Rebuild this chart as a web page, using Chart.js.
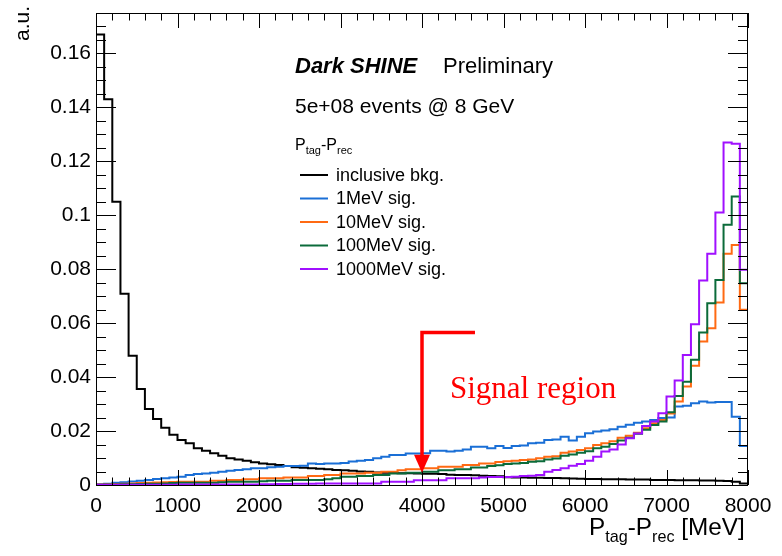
<!DOCTYPE html>
<html>
<head>
<meta charset="utf-8">
<script src="https://cdn.jsdelivr.net/npm/chart.js@4.4.0/dist/chart.umd.min.js"></script>
<style>
  html, body { margin: 0; padding: 0; background: #fff; }
  #wrap { width: 782px; height: 556px; }
</style>
</head>
<body>
<div id="wrap"><canvas id="c" width="782" height="556"></canvas></div>
<script>
// 80 bins of 100 MeV, normalised (a.u.)
var xMin = 0, xMax = 8000, nBins = 80;
var yMax = 0.175;
var xTickStep = 1000, yTickStep = 0.02;

var bkg = [
  0.1670, 0.1430, 0.1050, 0.0709, 0.0479, 0.0356, 0.0282, 0.0245, 0.0212, 0.0186,
  0.0167, 0.0155, 0.0136, 0.0127, 0.0118, 0.0108, 0.0099, 0.0095, 0.0090, 0.0084,
  0.0080, 0.0077, 0.0074, 0.0070, 0.0066, 0.0064, 0.0062, 0.0060, 0.0058, 0.0056,
  0.0055, 0.0053, 0.0050, 0.0049, 0.0046, 0.0045, 0.0045, 0.0044, 0.0044, 0.0043,
  0.0042, 0.0042, 0.0041, 0.0038, 0.0037, 0.0037, 0.0036, 0.0034, 0.0033, 0.0032,
  0.0029, 0.0028, 0.0028, 0.0027, 0.0027, 0.0026, 0.0026, 0.0025, 0.0024, 0.0023,
  0.0022, 0.0022, 0.0021, 0.0021, 0.0021, 0.0020, 0.0020, 0.0020, 0.0019, 0.0019,
  0.0019, 0.0018, 0.0018, 0.0018, 0.0017, 0.0017, 0.0016, 0.0015, 0.0012, 0.0006
];
var sig1 = [
  0.0003, 0.0005, 0.0008, 0.0010, 0.0013, 0.0016, 0.0019, 0.0022, 0.0025, 0.0028,
  0.0031, 0.0037, 0.0041, 0.0043, 0.0045, 0.0049, 0.0053, 0.0056, 0.0058, 0.0062,
  0.0062, 0.0066, 0.0068, 0.0070, 0.0070, 0.0071, 0.0080, 0.0078, 0.0080, 0.0080,
  0.0082, 0.0087, 0.0090, 0.0093, 0.0099, 0.0105, 0.0111, 0.0111, 0.0117, 0.0117,
  0.0118, 0.0127, 0.0127, 0.0124, 0.0127, 0.0132, 0.0142, 0.0142, 0.0136, 0.0145,
  0.0137, 0.0145, 0.0146, 0.0155, 0.0157, 0.0167, 0.0169, 0.0179, 0.0165, 0.0179,
  0.0192, 0.0198, 0.0202, 0.0207, 0.0216, 0.0223, 0.0231, 0.0235, 0.0241, 0.0248,
  0.0250, 0.0291, 0.0294, 0.0303, 0.0310, 0.0306, 0.0308, 0.0308, 0.0253, 0.0145
];
var sig10 = [
  0.0002, 0.0003, 0.0004, 0.0005, 0.0006, 0.0007, 0.0008, 0.0009, 0.0010, 0.0011,
  0.0012, 0.0012, 0.0012, 0.0012, 0.0016, 0.0016, 0.0019, 0.0019, 0.0021, 0.0021,
  0.0025, 0.0025, 0.0025, 0.0028, 0.0028, 0.0028, 0.0033, 0.0033, 0.0037, 0.0037,
  0.0043, 0.0043, 0.0043, 0.0045, 0.0045, 0.0049, 0.0049, 0.0055, 0.0058, 0.0058,
  0.0062, 0.0062, 0.0068, 0.0068, 0.0068, 0.0074, 0.0074, 0.0080, 0.0080, 0.0085,
  0.0088, 0.0090, 0.0093, 0.0095, 0.0099, 0.0105, 0.0107, 0.0120, 0.0124, 0.0130,
  0.0136, 0.0148, 0.0155, 0.0162, 0.0175, 0.0183, 0.0194, 0.0210, 0.0229, 0.0241,
  0.0265, 0.0310, 0.0365, 0.0442, 0.0532, 0.0581, 0.0677, 0.0857, 0.0890, 0.0650
];
var sig100 = [
  0.0001, 0.0002, 0.0002, 0.0003, 0.0003, 0.0004, 0.0005, 0.0005, 0.0006, 0.0007,
  0.0008, 0.0008, 0.0008, 0.0008, 0.0008, 0.0010, 0.0012, 0.0012, 0.0012, 0.0012,
  0.0014, 0.0016, 0.0016, 0.0016, 0.0019, 0.0019, 0.0019, 0.0019, 0.0021, 0.0025,
  0.0031, 0.0031, 0.0033, 0.0033, 0.0037, 0.0037, 0.0043, 0.0043, 0.0045, 0.0045,
  0.0049, 0.0049, 0.0055, 0.0055, 0.0058, 0.0058, 0.0065, 0.0065, 0.0070, 0.0073,
  0.0078, 0.0080, 0.0082, 0.0086, 0.0088, 0.0095, 0.0098, 0.0108, 0.0113, 0.0120,
  0.0125, 0.0136, 0.0142, 0.0152, 0.0165, 0.0175, 0.0190, 0.0205, 0.0222, 0.0235,
  0.0270, 0.0330, 0.0383, 0.0464, 0.0565, 0.0674, 0.0760, 0.0965, 0.1070, 0.0748
];
var sig1000 = [
  0.0001, 0.0001, 0.0001, 0.0001, 0.0001, 0.0001, 0.0001, 0.0001, 0.0001, 0.0001,
  0.0002, 0.0002, 0.0002, 0.0002, 0.0002, 0.0002, 0.0002, 0.0002, 0.0002, 0.0002,
  0.0003, 0.0003, 0.0004, 0.0004, 0.0005, 0.0005, 0.0005, 0.0006, 0.0006, 0.0006,
  0.0006, 0.0006, 0.0006, 0.0006, 0.0006, 0.0012, 0.0012, 0.0012, 0.0012, 0.0018,
  0.0018, 0.0018, 0.0018, 0.0025, 0.0025, 0.0025, 0.0025, 0.0028, 0.0030, 0.0030,
  0.0030, 0.0031, 0.0033, 0.0034, 0.0037, 0.0049, 0.0056, 0.0062, 0.0071, 0.0078,
  0.0090, 0.0105, 0.0124, 0.0132, 0.0150, 0.0173, 0.0191, 0.0219, 0.0235, 0.0266,
  0.0328, 0.0387, 0.0482, 0.0596, 0.0758, 0.0857, 0.1010, 0.1270, 0.1265, 0.0798
];

var seriesNames = ['inclusive bkg.', '1MeV sig.', '10MeV sig.', '100MeV sig.', '1000MeV sig.'];
var seriesColors = ['#000000', '#1a6fd6', '#ff6a13', '#0b6b3a', '#a010ff'];
var seriesData = [bkg, sig1, sig10, sig100, sig1000];

// signal region marker (data coords)
var cutX = 4000, cutTop = 0.0565, cutEnd = 4650, cutTip = 0.0045;

var sans = '"Liberation Sans", Arial, Helvetica, sans-serif';
var serif = '"Liberation Serif", "Times New Roman", serif';

function histPoints(vals) {
  var w = (xMax - xMin) / nBins;
  var pts = vals.map(function(v, i) { return { x: xMin + i * w, y: v }; });
  pts.push({ x: xMax, y: vals[vals.length - 1] });
  return pts;
}

// text with subscripts, parts = [[text, size, dy], ...]
// drawn from x; if fitWidth is given the sizes are scaled to span it
function drawParts(ctx, parts, x, y, fitWidth) {
  var k = 1;
  if (fitWidth) {
    var total = 0;
    parts.forEach(function(p) {
      ctx.font = p[1] + 'px ' + sans;
      total += ctx.measureText(p[0]).width;
    });
    k = fitWidth / total;
  }
  var cx = x;
  ctx.textAlign = 'left';
  ctx.textBaseline = 'alphabetic';
  parts.forEach(function(p) {
    ctx.font = (p[1] * k).toFixed(1) + 'px ' + sans;
    ctx.fillText(p[0], cx, y + (p[2] || 0) * k);
    cx += ctx.measureText(p[0]).width;
  });
}

var rootStyle = {
  id: 'rootStyle',
  afterDatasetsDraw: function(chart) {
    var ctx = chart.ctx;
    var a = chart.chartArea;
    var xs = chart.scales.x, ys = chart.scales.y;
    ctx.save();

    // frame
    ctx.strokeStyle = '#000';
    ctx.lineWidth = 1;
    ctx.strokeRect(a.left + 0.5, a.top + 0.5, a.right - a.left - 1, a.bottom - a.top);

    // inside ticks, all four sides
    ctx.beginPath();
    var v, px, len;
    for (v = xMin; v <= xMax + 1e-6; v += 200) {
      px = Math.round(xs.getPixelForValue(v)) + 0.5;
      len = (v % xTickStep === 0) ? 15 : 7.5;
      ctx.moveTo(px, a.bottom); ctx.lineTo(px, a.bottom - len);
      ctx.moveTo(px, a.top); ctx.lineTo(px, a.top + len);
    }
    for (v = 0; v <= yMax + 1e-9; v += 0.005) {
      px = Math.round(ys.getPixelForValue(v)) + 0.5;
      var major = Math.abs(v / yTickStep - Math.round(v / yTickStep)) < 1e-6;
      len = major ? 20 : 10;
      ctx.moveTo(a.left, px); ctx.lineTo(a.left + len, px);
      ctx.moveTo(a.right, px); ctx.lineTo(a.right - len, px);
    }
    ctx.stroke();

    // signal region arrow
    var ax = xs.getPixelForValue(cutX);
    var atop = ys.getPixelForValue(cutTop);
    var atip = ys.getPixelForValue(cutTip);
    ctx.strokeStyle = '#ff0000';
    ctx.fillStyle = '#ff0000';
    ctx.lineWidth = 3.5;
    ctx.beginPath();
    ctx.moveTo(xs.getPixelForValue(cutEnd), atop);
    ctx.lineTo(ax, atop);
    ctx.lineTo(ax, atip - 16);
    ctx.stroke();
    ctx.beginPath();
    ctx.moveTo(ax - 8, atip - 18);
    ctx.lineTo(ax + 8, atip - 18);
    ctx.lineTo(ax, atip);
    ctx.closePath();
    ctx.fill();
    ctx.font = '31px ' + serif;
    ctx.textAlign = 'left';
    ctx.textBaseline = 'alphabetic';
    ctx.fillText('Signal region', 450, 398);

    // labels
    ctx.fillStyle = '#000';
    ctx.font = 'italic bold 22px ' + sans;
    ctx.fillText('Dark SHINE', 295, 73);
    ctx.font = '22px ' + sans;
    ctx.fillText('Preliminary', 443, 73);
    ctx.font = '21px ' + sans;
    ctx.fillText('5e+08 events @ 8 GeV', 295, 113);

    drawParts(ctx, [['P', 16], ['tag', 11, 4], ['-P', 16], ['rec', 11, 4]], 295, 150);

    ctx.font = '18px ' + sans;
    ctx.textBaseline = 'middle';
    seriesNames.forEach(function(name, i) {
      var yy = 175 + i * 23.5;
      ctx.strokeStyle = seriesColors[i];
      ctx.lineWidth = 2;
      ctx.beginPath();
      ctx.moveTo(300, yy); ctx.lineTo(328, yy);
      ctx.stroke();
      ctx.fillStyle = '#000';
      ctx.fillText(name, 336, yy + 1);
    });

    // axis titles
    drawParts(ctx, [['P', 21], ['tag', 14, 6], ['-P', 21], ['rec', 14, 6], [' [MeV]', 21]], 589, 535, 156);
    ctx.save();
    ctx.translate(29, 6);
    ctx.rotate(-Math.PI / 2);
    ctx.font = '21px ' + sans;
    ctx.textAlign = 'right';
    ctx.textBaseline = 'alphabetic';
    ctx.fillText('a.u.', 0, 0);
    ctx.restore();

    ctx.restore();
  }
};

var datasets = seriesData.map(function(vals, i) {
  return {
    label: seriesNames[i],
    data: histPoints(vals),
    borderColor: seriesColors[i],
    borderWidth: 2,
    pointRadius: 0,
    stepped: true,
    fill: false,
    order: seriesData.length - 1 - i
  };
});

new Chart(document.getElementById('c'), {
  type: 'line',
  data: { datasets: datasets },
  options: {
    responsive: false,
    animation: false,
    devicePixelRatio: 1,
    layout: { padding: { top: 13, right: 34, left: 0, bottom: 0 } },
    plugins: { legend: { display: false }, tooltip: { enabled: false } },
    scales: {
      x: {
        type: 'linear',
        min: xMin,
        max: xMax,
        grid: { display: false, drawTicks: false },
        border: { display: false },
        ticks: {
          stepSize: xTickStep,
          maxRotation: 0,
          autoSkip: false,
          padding: 9,
          color: '#000',
          font: { family: sans, size: 21 },
          callback: function(v) { return String(v); }
        },
        afterFit: function(s) { s.height = 71; s.paddingLeft = 0; s.paddingRight = 0; }
      },
      y: {
        min: 0,
        max: yMax,
        grid: { display: false, drawTicks: false },
        border: { display: false },
        ticks: {
          stepSize: yTickStep,
          includeBounds: false,
          padding: 5,
          color: '#000',
          font: { family: sans, size: 21 },
          callback: function(v) { return String(+v.toFixed(2)); }
        },
        afterFit: function(s) { s.width = 96; s.paddingTop = 0; s.paddingBottom = 0; }
      }
    }
  },
  plugins: [rootStyle]
});
</script>
</body>
</html>
